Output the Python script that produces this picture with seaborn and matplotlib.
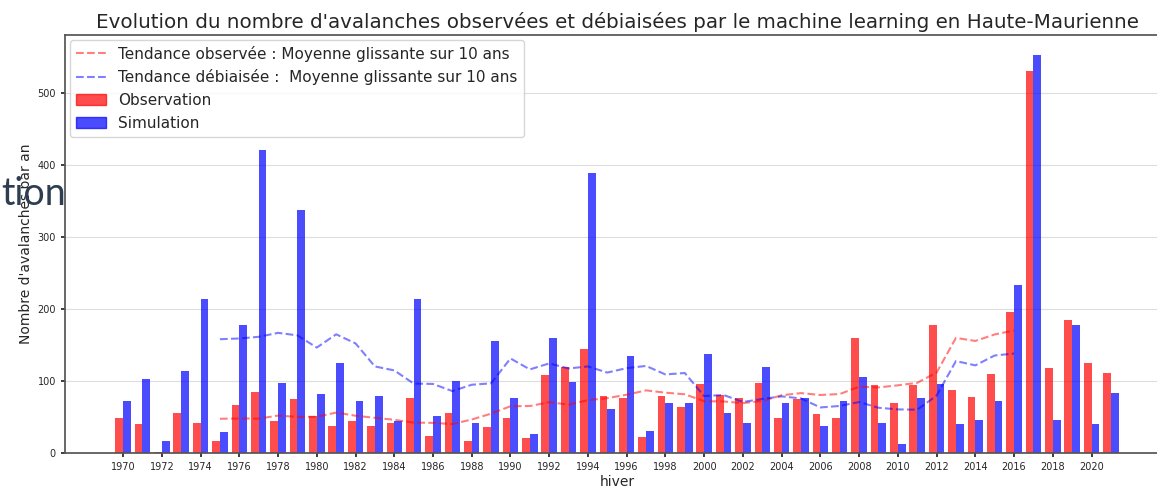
import numpy as np
import pandas as pd
import seaborn as sns
from matplotlib import pyplot as plt
from matplotlib.patches import Patch

sns.set_theme(style="ticks")
plt.rcParams['font.family'] = ['DejaVu Sans']

# winters
hivers = list(range(1970, 2022))

observation = [48, 40, 2, 56, 41, 17, 67, 85, 44, 75,
               52, 38, 44, 38, 42, 76, 23, 56, 17, 36,
               48, 21, 108, 119, 145, 79, 76, 22, 79, 64,
               96, 81, 76, 97, 49, 75, 54, 49, 160, 94,
               70, 94, 178, 87, 78, 110, 196, 530, 118, 184,
               125, 111]

simulation = [72, 102, 17, 114, 213, 29, 178, 420, 97, 337,
              82, 125, 72, 79, 44, 213, 52, 100, 42, 155,
              76, 26, 160, 99, 389, 61, 135, 30, 70, 70,
              138, 56, 42, 119, 69, 76, 38, 72, 106, 41,
              13, 77, 96, 40, 46, 72, 233, 552, 46, 178,
              40, 83]

# trend lines (moving average over 10 winters), 1975 -> 2016
hivers_tendance = list(range(1975, 2017))

tendance_obs = [47.5, 47.9, 47.7, 51.9, 50.1, 50.2, 56.1, 51.7, 48.8, 46.1,
                42.2, 41.8, 40.1, 46.5, 54.6, 64.9, 65.2, 70.5, 67.1, 73.3,
                76.1, 80.9, 86.9, 83.7, 81.5, 71.9, 71.5, 69.3, 72.0, 80.1,
                83.1, 80.5, 81.8, 92.0, 91.0, 93.9, 97.4, 111.6, 159.7, 155.5,
                164.5, 170.0]

tendance_sim = [157.9, 158.9, 161.2, 166.7, 163.2, 146.3, 164.7, 152.1, 120.1, 114.6,
                96.4, 95.8, 85.9, 94.7, 96.7, 131.2, 116.0, 124.3, 117.3, 120.1,
                111.6, 117.8, 120.8, 109.0, 111.0, 79.0, 80.5, 70.8, 75.0, 78.6,
                75.7, 63.2, 65.3, 70.7, 62.8, 60.5, 60.1, 79.6, 127.6, 121.6,
                135.3, 138.0]

bars = pd.DataFrame({
    'hiver': hivers * 2,
    'n': observation + simulation,
    'type': ['Observation'] * len(hivers) + ['Simulation'] * len(hivers),
})

fig = plt.figure(figsize=(11.57, 4.88), dpi=100)
ax = fig.add_axes([65 / 1157, 35 / 488, 1104 / 1157, 418 / 488])

sns.barplot(data=bars, x='hiver', y='n', hue='type', native_scale=True,
            palette={'Observation': 'red', 'Simulation': 'blue'},
            saturation=1, alpha=0.7, width=0.8, linewidth=0,
            ax=ax, legend=False)

sns.lineplot(x=hivers_tendance, y=tendance_obs, color='red', alpha=0.5,
             linestyle='--', ax=ax,
             label="Tendance observée : Moyenne glissante sur 10 ans")
sns.lineplot(x=hivers_tendance, y=tendance_sim, color='blue', alpha=0.5,
             linestyle='--', ax=ax,
             label="Tendance débiaisée :  Moyenne glissante sur 10 ans")

handles, labels = ax.get_legend_handles_labels()
handles += [Patch(color='red', alpha=0.7), Patch(color='blue', alpha=0.7)]
labels += ['Observation', 'Simulation']
ax.legend(handles, labels, loc='upper left', fontsize=11, frameon=True,
          borderaxespad=0.3)

ax.set_xlim(1967, 2024)
ax.set_ylim(0, 580)
ax.set_xticks(list(range(1970, 2021, 2)))
ax.set_yticks([0, 100, 200, 300, 400, 500])
ax.tick_params(axis='both', labelsize=7, length=3)
ax.grid(axis='y', color='#dddddd', linewidth=0.8)
ax.set_axisbelow(True)
for s in ax.spines.values():
    s.set_color('#555555')

ax.set_title("Evolution du nombre d'avalanches observées et débiaisées par le machine learning en Haute-Maurienne",
             fontsize=14.3, pad=5)
ax.set_xlabel('hiver', fontsize=10, labelpad=2)
ax.set_ylabel("Nombre d'avalanches par an", fontsize=10, labelpad=3)

# stray caption fragment that overlaps the chart on the left
fig.text(66 / 1157, (488 - 205) / 488, 'tion', ha='right', va='baseline',
         fontsize=27, color='#2c3e50', family=['Lato', 'DejaVu Sans'], zorder=10)

fig.savefig('out.png', dpi=100)
